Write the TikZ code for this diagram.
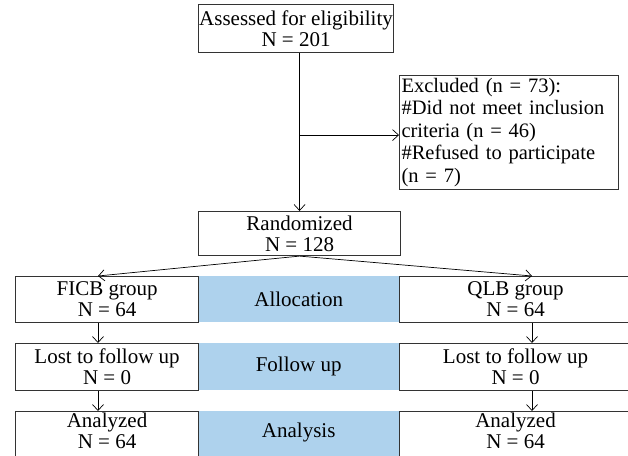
\documentclass[tikz,border=0pt]{standalone}
\usepackage{fontspec}
\setmainfont{Liberation Serif}
\usetikzlibrary{arrows.meta}
\definecolor{phaseblue}{RGB}{174,210,237}

\begin{document}
\begin{tikzpicture}[x=1pt,y=-1pt,
  box/.style={draw=black!80,line width=1.1pt,fill=white,inner sep=0pt,
    align=center,anchor=north west,font=\fontsize{21}{21}\selectfont},
  phase/.style={fill=phaseblue,inner sep=0pt,anchor=north west,
    font=\fontsize{21}{21}\selectfont},
  lastbox/.style={box,minimum height=48pt,text depth=9pt},
  arr/.style={line width=0.7pt,-{Straight Barb[length=6pt,width=11pt]}}]
  \useasboundingbox (0,0) rectangle (628,455);

  % enrolment
  \node[box,minimum width=195pt,minimum height=48pt] (assess) at (198,4)
    {Assessed for eligibility\\N = 201};
  \node[box,align=left,text width=215pt,inner xsep=2pt,minimum height=114pt,
    font=\fontsize{20.5}{22.5}\selectfont] (excl) at (399,75)
    {Excluded (n = 73):\\\#Did not meet inclusion\\criteria (n = 46)\\
     \#Refused to participate\\(n = 7)};
  \node[box,minimum width=202pt,minimum height=44pt] (rand) at (198,211)
    {Randomized\\N = 128};

  % phase labels
  \node[phase,minimum width=201pt,minimum height=46pt] (alloc) at (198,276) {Allocation};
  \node[phase,minimum width=201pt,minimum height=47pt] (follow) at (198,343) {Follow up};
  \node[phase,minimum width=201pt,minimum height=48pt,text depth=9pt] (anal) at (198,411) {Analysis};

  % two arms
  \node[box,minimum width=183pt,minimum height=46pt] (ficb) at (15,276) {FICB group\\N = 64};
  \node[box,minimum width=183pt,minimum height=47pt] (lostl) at (15,343) {Lost to follow up\\N = 0};
  \node[lastbox,minimum width=183pt] (anall) at (15,411) {Analyzed\\N = 64};
  \node[box,minimum width=232pt,minimum height=46pt] (qlb) at (399,276) {QLB group\\N = 64};
  \node[box,minimum width=232pt,minimum height=47pt] (lostr) at (399,343) {Lost to follow up\\N = 0};
  \node[lastbox,minimum width=232pt] (analr) at (399,411) {Analyzed\\N = 64};

  \coordinate (lx) at (98,0);
  \coordinate (rx) at (532,0);

  \draw[arr] (assess.south -| rand.north) -- (rand.north);
  \draw[arr] ([yshift=-2.5pt]excl.west -| rand.north) -- ([yshift=-2.5pt]excl.west);
  \draw[arr] (rand.south) -- (ficb.north -| lx);
  \draw[arr] (rand.south) -- (qlb.north -| rx);
  \draw[arr] (ficb.south -| lx) -- (lostl.north -| lx);
  \draw[arr] (lostl.south -| lx) -- (anall.north -| lx);
  \draw[arr] (qlb.south -| rx) -- (lostr.north -| rx);
  \draw[arr] (lostr.south -| rx) -- (analr.north -| rx);
\end{tikzpicture}
\end{document}
